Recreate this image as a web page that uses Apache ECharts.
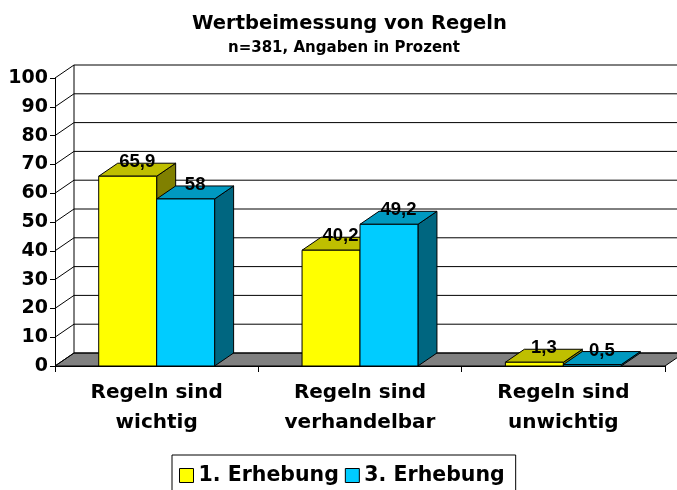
<!DOCTYPE html>
<html>
<head>
<meta charset="utf-8">
<script src="https://cdn.jsdelivr.net/npm/echarts@6/dist/echarts.min.js"></script>
<style>
  html, body { margin: 0; padding: 0; background: #fff; }
  #chart { width: 677px; height: 490px; }
</style>
</head>
<body>
<div id="chart"></div>
<script>
var categories = ['Regeln sind\nwichtig', 'Regeln sind\nverhandelbar', 'Regeln sind\nunwichtig'];
var seriesNames = ['1. Erhebung', '3. Erhebung'];
var erhebung1 = [65.9, 40.2, 1.3];
var erhebung3 = [58, 49.2, 0.5];
var yTicks = [0, 10, 20, 30, 40, 50, 60, 70, 80, 90, 100];

// depth of the fake 3d look, in pixels
var DX = 19, DY = -13;
var axisFont = 'DejaVu Sans';

function frameRenderer(params, api) {
  var v = api.value(1);
  var cs = params.coordSys;
  var x0 = cs.x, x1 = cs.x + cs.width;
  var y = api.coord([0, v])[1];
  var line = { stroke: '#000', lineWidth: 1 };
  var children = [];
  if (v === 0) {
    children.push({
      type: 'polygon',
      shape: { points: [[x0, y], [x1, y], [x1 + DX, y + DY], [x0 + DX, y + DY]] },
      style: { fill: '#808080', stroke: '#000', lineWidth: 1 }
    });
  }
  children.push({ type: 'line', shape: { x1: x0, y1: y, x2: x0 + DX, y2: y + DY }, style: line });
  children.push({ type: 'line', shape: { x1: x0 + DX, y1: y + DY, x2: x1 + DX, y2: y + DY }, style: line });
  if (v === 100) {
    var yb = api.coord([0, 0])[1];
    children.push({ type: 'line', shape: { x1: x0 + DX, y1: y + DY, x2: x0 + DX, y2: yb + DY }, style: line });
  }
  return { type: 'group', children: children };
}

function barRenderer(front, top, side, slot) {
  return function (params, api) {
    var i = api.value(0), v = api.value(1);
    var base = api.coord([i, 0]);
    var tip = api.coord([i, v]);
    var band = api.size([1, 0])[0];
    var bw = band * 0.285;
    var x0 = base[0] - bw + slot * bw, x1 = x0 + bw;
    var yb = base[1], yt = tip[1];
    return {
      type: 'group',
      children: [
        {
          type: 'polygon',
          shape: { points: [[x1, yb], [x1 + DX, yb + DY], [x1 + DX, yt + DY], [x1, yt]] },
          style: { fill: side, stroke: '#000', lineWidth: 1 }
        },
        {
          type: 'polygon',
          shape: { points: [[x0, yt], [x1, yt], [x1 + DX, yt + DY], [x0 + DX, yt + DY]] },
          style: { fill: top, stroke: '#000', lineWidth: 1 }
        },
        {
          type: 'rect',
          shape: { x: x0, y: yt, width: bw, height: yb - yt },
          style: { fill: front, stroke: '#000', lineWidth: 1 }
        },
        {
          type: 'text',
          style: {
            text: String(v).replace('.', ','),
            x: (x0 + x1) / 2 + DX / 2,
            y: yt - 14,
            align: 'center',
            verticalAlign: 'middle',
            fill: '#000',
            font: 'bold 18.5px "Liberation Sans", Arial, sans-serif'
          },
          z2: 10
        }
      ]
    };
  };
}

var chart = echarts.init(document.getElementById('chart'));
chart.setOption({
  backgroundColor: '#fff',
  animation: false,
  title: [
    {
      text: 'Wertbeimessung von Regeln',
      left: 192, top: 14, padding: 0,
      textStyle: { fontFamily: axisFont, fontWeight: 'bold', fontSize: 19.5, color: '#000' }
    },
    {
      text: 'n=381, Angaben in Prozent',
      left: 228, top: 41, padding: 0,
      textStyle: { fontFamily: axisFont, fontWeight: 'bold', fontSize: 15, color: '#000' }
    }
  ],
  legend: {
    data: seriesNames,
    left: 172, top: 455,
    padding: [10, 11, 20, 7],
    itemGap: 6,
    itemWidth: 14, itemHeight: 14,
    icon: 'rect',
    borderColor: '#000', borderWidth: 1,
    itemStyle: { borderColor: '#000', borderWidth: 1 },
    textStyle: { fontFamily: axisFont, fontWeight: 'bold', fontSize: 20.5, color: '#000' }
  },
  grid: { left: 55, right: 12, top: 78, bottom: 124 },
  xAxis: {
    type: 'category',
    data: categories,
    axisLine: { lineStyle: { color: '#000', width: 1 } },
    axisTick: { show: true, length: 6, lineStyle: { color: '#000' } },
    axisLabel: {
      margin: 12, lineHeight: 30,
      fontFamily: axisFont, fontWeight: 'bold', fontSize: 20, color: '#000'
    },
    splitLine: { show: false }
  },
  yAxis: {
    type: 'value',
    min: 0, max: 100, interval: 10,
    axisLine: { show: true, lineStyle: { color: '#000', width: 1 } },
    axisTick: { show: true, length: 5, lineStyle: { color: '#000' } },
    axisLabel: { margin: 7, fontFamily: axisFont, fontWeight: 'bold', fontSize: 19, color: '#000' },
    splitLine: { show: false }
  },
  series: [
    {
      type: 'custom',
      name: 'frame',
      z: 1,
      silent: true,
      renderItem: frameRenderer,
      data: yTicks.map(function (t) { return [0, t]; })
    },
    {
      type: 'custom',
      name: seriesNames[0],
      z: 2,
      itemStyle: { color: '#FFFF00' },
      renderItem: barRenderer('#FFFF00', '#BFBF00', '#808000', 0),
      data: erhebung1.map(function (v, i) { return [i, v]; })
    },
    {
      type: 'custom',
      name: seriesNames[1],
      z: 3,
      itemStyle: { color: '#00CCFF' },
      renderItem: barRenderer('#00CCFF', '#0099C0', '#006680', 1),
      data: erhebung3.map(function (v, i) { return [i, v]; })
    }
  ]
});
</script>
</body>
</html>
